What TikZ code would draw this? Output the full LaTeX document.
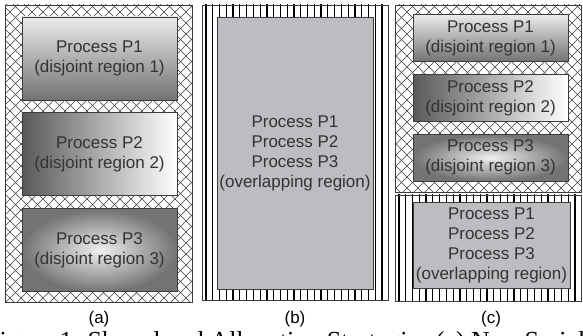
\documentclass[tikz,border=0pt]{standalone}
\usepackage{fontspec}
\setmainfont{Liberation Serif}
\setsansfont{Liberation Sans}
\usetikzlibrary{positioning}

\definecolor{boxgray}{RGB}{188,189,192}
\definecolor{edgegray}{RGB}{60,60,60}

\begin{document}
\begin{tikzpicture}[x=1pt,y=-1pt,
  font=\sffamily\fontsize{17}{20}\selectfont,
  frame line/.style={draw=edgegray,line width=0.9pt},
  hatch line/.style={draw=edgegray,line width=0.6pt},
  stripe line/.style={draw=black,line width=1.2pt},
  region box/.style={draw=edgegray,line width=0.9pt,minimum width=155pt,
    align=center,inner sep=0pt,text=black!80},
  disjoint box/.style={region box,minimum height=83pt},
  small box/.style={region box,minimum height=47pt},
  shared box/.style={region box,fill=boxgray},
  tag/.style={inner sep=0pt,text=black}]

  \clip (0,0) rectangle (583,336);
  \fill[white] (0,0) rectangle (583,336);

  % (a) three disjoint regions
  \begin{scope}
    \clip (5,5) rectangle (192,302);
    \foreach \i in {-310,-299,...,200}
      \draw[hatch line] (\i,0) -- ++(310,310) (\i+310,0) -- ++(-310,310);
  \end{scope}
  \draw[frame line] (5,5) rectangle (192,302);

  \node[disjoint box,top color=black!8,bottom color=black!55] (p1a) at (99.5,58.5)
    {Process P1\\(disjoint region 1)};
  \node[disjoint box,left color=black!65,right color=white,below=12pt of p1a] (p2a)
    {Process P2\\(disjoint region 2)};
  \node[disjoint box,shading=radial,inner color=black!6,outer color=black!55,
    below=12pt of p2a] (p3a) {Process P3\\(disjoint region 3)};

  % (b) one overlapping region
  \begin{scope}
    \clip (202,5) rectangle (388,300);
    \foreach \k in {0,...,26}
      \draw[stripe line] (206+\k*6.77,0) -- (206+\k*6.77,310);
  \end{scope}
  \draw[frame line] (202,5) rectangle (388,300);

  \node[shared box,minimum width=156pt,minimum height=272pt] (pall) at (295,153)
    {Process P1\\Process P2\\Process P3\\(overlapping region)};

  % (c) disjoint regions plus an overlapping one
  \begin{scope}
    \clip (395,5) rectangle (581,192);
    \foreach \i in {-100,-89,...,590}
      \draw[hatch line] (\i,0) -- ++(200,200) (\i+200,0) -- ++(-200,200);
  \end{scope}
  \draw[frame line] (395,5) rectangle (581,192);
  \begin{scope}
    \clip (395,195) rectangle (581,301);
    \foreach \k in {0,...,27}
      \draw[stripe line] (399+\k*6.77,190) -- (399+\k*6.77,310);
  \end{scope}
  \draw[frame line] (395,195) rectangle (581,301);

  \node[small box,top color=black!8,bottom color=black!55] (p1c) at (490.5,38)
    {Process P1\\(disjoint region 1)};
  \node[small box,left color=black!65,right color=white,below=12pt of p1c] (p2c)
    {Process P2\\(disjoint region 2)};
  \node[small box,shading=radial,inner color=black!6,outer color=black!55,
    below=12pt of p2c] (p3c) {Process P3\\(disjoint region 3)};
  \node[shared box,minimum width=157pt,minimum height=86pt] (pallc) at (491.5,245)
    {Process P1\\Process P2\\Process P3\\(overlapping region)};

  % labels
  \node[tag] (la) at (99,319) {(a)};
  \node[tag] (lb) at (295,319) {(b)};
  \node[tag] (lc) at (491,319) {(c)};

  \node[anchor=base west,inner sep=0pt,text=black,
    font=\rmfamily\fontsize{26}{28}\selectfont] (cap) at (-15,349)
    {Figure 1. Shared and Allocation Strategies (a) Non-Serial};
\end{tikzpicture}
\end{document}
